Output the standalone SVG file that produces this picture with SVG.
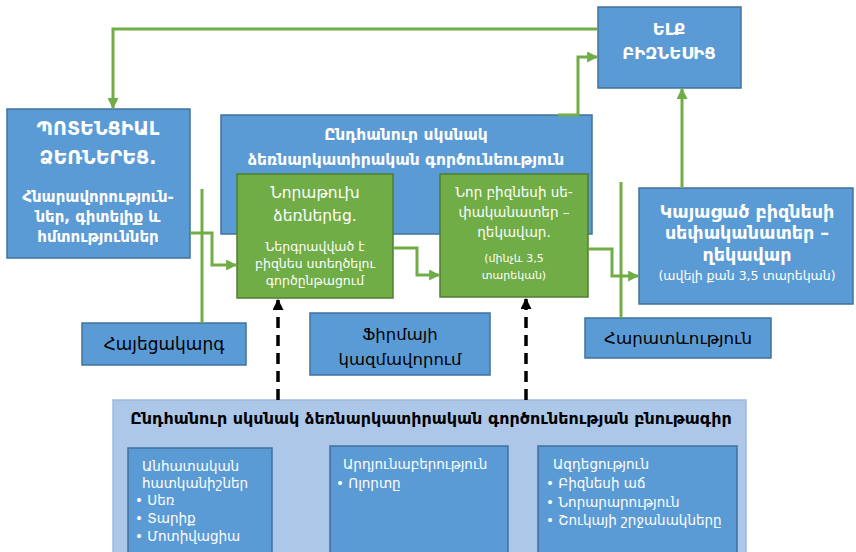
<svg xmlns="http://www.w3.org/2000/svg" width="856" height="552" viewBox="0 0 856 552">
<style>
.blue{fill:#5B9BD5;stroke:#41719C;stroke-width:1.5}
.green{fill:#70AD47;stroke:#507E32;stroke-width:1.5}
.light{fill:#ADC7E8;stroke:#9DBBE0;stroke-width:1.5}
.con{fill:none;stroke:#70AD47;stroke-width:3}
.dash{fill:none;stroke:#000;stroke-width:3.5;stroke-dasharray:11 7}
text{font-family:"DejaVu Sans","Noto Sans",sans-serif;}
.w{fill:#fff}
.k{fill:#000}
.b{font-weight:bold}
.c{text-anchor:middle}
</style>
<defs>
<marker id="ga" viewBox="0 0 10 10" refX="9" refY="5" markerWidth="11" markerHeight="11" markerUnits="userSpaceOnUse" orient="auto"><path d="M0,0 L10,5 L0,10 z" fill="#70AD47"/></marker>
<marker id="ka" viewBox="0 0 10 10" refX="9" refY="5" markerWidth="11" markerHeight="11" markerUnits="userSpaceOnUse" orient="auto"><path d="M0,0 L10,5 L0,10 z" fill="#000"/></marker>
</defs>

<g id="node-bottom">
<rect class="light" x="113" y="400" width="633" height="160"/>
<text class="k b c" x="431" y="424" font-size="16">Ընդհանուր սկսնակ ձեռնարկատիրական գործունեության բնութագիր</text>
</g>
<g id="node-individual">
<rect class="blue" x="128" y="448" width="144" height="112"/>
<text class="w" font-size="13.5"><tspan x="142" y="471">Անհատական</tspan><tspan x="142" y="488">հատկանիշներ</tspan><tspan x="135" y="505">• Սեռ</tspan><tspan x="135" y="523">• Տարիք</tspan><tspan x="135" y="541">• Մոտիվացիա</tspan></text>
</g>
<g id="node-industry">
<rect class="blue" x="330" y="446" width="178" height="114"/>
<text class="w" font-size="13.5"><tspan x="343" y="469">Արդյունաբերություն</tspan><tspan x="336" y="488">• Ոլորտը</tspan></text>
</g>
<g id="node-impact">
<rect class="blue" x="538" y="446" width="199" height="114"/>
<text class="w" font-size="13.5"><tspan x="553" y="469">Ազդեցություն</tspan><tspan x="546" y="488">• Բիզնեսի աճ</tspan><tspan x="546" y="507">• Նորարարություն</tspan><tspan x="546" y="525">• Շուկայի շրջանակները</tspan></text>
</g>

<g id="node-general">
<rect class="blue" x="221" y="115" width="371" height="119"/>
<text class="w b c" x="406" y="140" font-size="15.5">Ընդհանուր սկսնակ</text>
<text class="w b c" x="406" y="165" font-size="15.5">ձեռնարկատիրական գործունեություն</text>
</g>
<g id="node-nascent">
<rect class="green" x="237" y="174" width="156" height="124"/>
<text class="w c" x="315" y="198" font-size="15.5">Նորաթուխ</text>
<text class="w c" x="315" y="221" font-size="15.5">ձեռներեց.</text>
<text class="w c" font-size="12.5"><tspan x="315" y="251">Ներգրավված է</tspan><tspan x="315" y="268">բիզնես ստեղծելու</tspan><tspan x="315" y="285">գործընթացում</tspan></text>
</g>
<g id="node-new">
<rect class="green" x="440" y="174" width="148" height="123"/>
<text class="w c" font-size="13.5"><tspan x="514" y="197">Նոր բիզնեսի սե-</tspan><tspan x="514" y="217">փականատեր –</tspan><tspan x="514" y="237">ղեկավար.</tspan></text>
<text class="w c" font-size="11"><tspan x="514" y="262">(մինչև 3,5</tspan><tspan x="514" y="279">տարեկան)</tspan></text>
</g>
<g id="node-potential">
<rect class="blue" x="7" y="109" width="183" height="149"/>
<text class="w b c" x="98" y="135" font-size="19">ՊՈՏԵՆՑԻԱԼ</text>
<text class="w b c" x="98" y="164" font-size="19">ՁԵՌՆԵՐԵՑ.</text>
<text class="w b c" font-size="15"><tspan x="98" y="202">Հնարավորություն-</tspan><tspan x="98" y="222">ներ, գիտելիք և</tspan><tspan x="98" y="242">հմտություններ</tspan></text>
</g>
<g id="node-exit">
<rect class="blue" x="598" y="7" width="143" height="81"/>
<text class="w b c" x="669" y="35" font-size="16.5">ԵԼՔ</text>
<text class="w b c" x="669" y="59" font-size="16.5">ԲԻԶՆԵՍԻՑ</text>
</g>
<g id="node-established">
<rect class="blue" x="639" y="188" width="214" height="116"/>
<text class="w b c" font-size="17.5"><tspan x="747" y="218">Կայացած բիզնեսի</tspan><tspan x="747" y="239">սեփականատեր –</tspan><tspan x="747" y="261">ղեկավար</tspan></text>
<text class="w c" x="747" y="280" font-size="12.5">(ավելի քան 3,5 տարեկան)</text>
</g>
<g id="node-concept">
<rect class="blue" x="82" y="323" width="164" height="42"/>
<text class="k c" x="164" y="350" font-size="17">Հայեցակարգ</text>
</g>
<g id="node-firm">
<rect class="blue" x="310" y="313" width="180" height="62"/>
<text class="k c" x="400" y="340" font-size="16.5">Ֆիրմայի</text>
<text class="k c" x="400" y="365" font-size="16.5">կազմավորում</text>
</g>
<g id="node-persistence">
<rect class="blue" x="585" y="318" width="186" height="40"/>
<text class="k c" x="678" y="344" font-size="16.7">Հարատևություն</text>
</g>

<g id="connectors">
<path class="con" d="M598,29 H113 V108" marker-end="url(#ga)"/>
<path class="con" d="M558,115 H578 V57 H597" marker-end="url(#ga)"/>
<path class="con" d="M682,188 V89" marker-end="url(#ga)"/>
<path class="con" d="M190,233 H212 V265 H236" marker-end="url(#ga)"/>
<path class="con" d="M202,189 V323"/>
<path class="con" d="M393,248 H417 V275 H439" marker-end="url(#ga)"/>
<path class="con" d="M588,249 H612 V276 H638" marker-end="url(#ga)"/>
<path class="con" d="M621,182 V318"/>
<path class="dash" d="M278,400 V300" marker-end="url(#ka)"/>
<path class="dash" d="M526,400 V299" marker-end="url(#ka)"/>
</g>
</svg>
